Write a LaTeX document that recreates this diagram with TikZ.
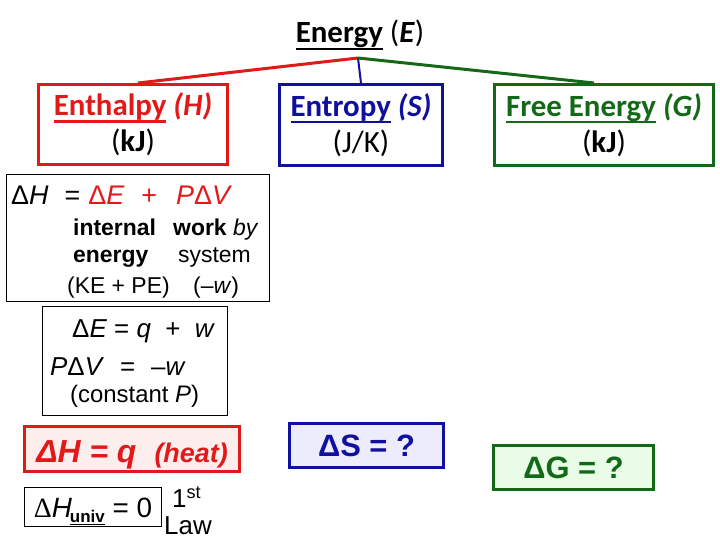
\documentclass[tikz,border=0pt]{standalone}
\usepackage{fontspec}
\setmainfont{Carlito}
\newfontfamily\arialfont{Liberation Sans}
\newfontfamily\timesfont{Liberation Serif}
\usetikzlibrary{positioning}
\definecolor{enthred}{RGB}{225,25,25}
\definecolor{entrblue}{RGB}{15,15,160}
\definecolor{freegreen}{RGB}{20,105,25}
\definecolor{heatfill}{RGB}{253,238,238}
\definecolor{dsfill}{RGB}{236,236,252}
\definecolor{dgfill}{RGB}{232,252,232}
\newcommand{\thickul}[1]{\setbox0\hbox{#1}\rlap{\raisebox{-7bp}{\rule{\wd0}{2.4bp}}}\box0\relax}

\begin{document}
\begin{tikzpicture}[x=1bp, y=-1bp,
    head/.style={draw, line width=3bp, inner sep=0pt, align=center, font=\fontsize{31}{36}\selectfont},
    notebox/.style={draw, line width=0.8bp, inner sep=0pt},
    answer/.style={draw, line width=3bp, inner sep=0pt, font=\arialfont\bfseries\fontsize{31}{34}\selectfont},
    eqline/.style={anchor=base west, inner sep=0pt, font=\arialfont\fontsize{23}{26}\selectfont},
    bigeq/.style={eqline, font=\arialfont\fontsize{26}{30}\selectfont},
    branch/.style={line width=3bp}
]
\useasboundingbox (0,0) rectangle (720,540);

\node[anchor=base, inner sep=0pt, font=\fontsize{31}{36}\selectfont] (energy) at (360,43) {\thickul{\textbf{Energy}} (\textbf{\textit{E}})};
\coordinate (fork) at (358,58);

\node[head, draw=enthred, minimum width=189bp, minimum height=80bp] (enth) at (133,124.5) {{\color{enthred}\thickul{\textbf{Enthalpy}} \textbf{\textit{(H)}}}\\(\textbf{kJ})};
\node[head, draw=entrblue, minimum width=163bp, minimum height=81bp] (entr) at (361,125) {{\color{entrblue}\thickul{\textbf{Entropy}} \textbf{\textit{(S)}}}\\(J/K)};
\node[head, draw=freegreen, minimum width=219bp, minimum height=81bp] (free) at (604,125) {{\color{freegreen}\thickul{\textbf{Free Energy}} \textbf{\textit{(G)}}}\\(\textbf{kJ})};

\draw[branch, enthred] (fork) -- ([xshift=5bp]enth.north);
\draw[branch, entrblue, line width=2bp] (fork) -- (entr.north);
\draw[branch, freegreen] (fork) -- ([xshift=-10bp]free.north);

\node[notebox, minimum width=263bp, minimum height=127bp] (dhbox) at (138,238) {};
\node[bigeq, font=\arialfont\fontsize{27}{30}\selectfont] (dh1) at (11,205) {Δ\textit{H}\hspace{16bp}=\hspace{8bp}\textcolor{enthred}{Δ\textit{E}\hspace{17bp}+\hspace{19bp}\textit{P}Δ\textit{V}}};
\node[eqline] (dh2a) at (73,236) {\textbf{internal}};
\node[eqline] (dh2b) at (173,236) {\textbf{work} \textit{by}};
\node[eqline] (dh3a) at (73,263) {\textbf{energy}};
\node[eqline] (dh3b) at (178,263) {system};
\node[eqline] (dh4a) at (67,293) {(KE + PE)};
\node[eqline] (dh4b) at (193,293) {(–\textit{w})};

\node[notebox, minimum width=185bp, minimum height=109bp] (debox) at (135,361) {};
\node[bigeq] (de1) at (72,337) {Δ\textit{E} = \textit{q} \ + \ \textit{w}};
\node[bigeq] (de2) at (50,375) {\textit{P}Δ\textit{V}\hspace{16bp}=\hspace{16bp}–\textit{w}};
\node[eqline, font=\arialfont\fontsize{24}{28}\selectfont] (de3) at (70,402) {(constant \textit{P})};

\node[answer, draw=enthred, fill=heatfill, text=enthred, minimum width=215bp, minimum height=45bp, text height=27bp, text depth=0bp, font=\arialfont\bfseries\itshape\fontsize{32}{34}\selectfont] (heat) at (132,449) {ΔH = q\hspace{18bp}{\fontsize{27}{30}\selectfont(heat)}};

\node[notebox, minimum width=137bp, minimum height=39bp, text height=21bp, text depth=0bp, font=\arialfont\fontsize{28}{30}\selectfont] (univ) at (93,507) {{\timesfont Δ}\textit{H}\hspace{-2bp}\raisebox{-5bp}{\fontsize{17}{18}\selectfont\underline{\textbf{univ}}} = 0};
\node[eqline, font=\arialfont\fontsize{26}{30}\selectfont] (law1) at (172,507) {1\textsuperscript{st}};
\node[eqline, font=\arialfont\fontsize{26}{30}\selectfont] (law2) at (164,534) {Law};

\node[answer, draw=entrblue, fill=dsfill, text=entrblue, minimum width=154bp, minimum height=44bp] (ds) at (366.5,445.5) {ΔS = ?};
\node[answer, draw=freegreen, fill=dgfill, text=freegreen, minimum width=160bp, minimum height=44bp] (dg) at (573.5,467.5) {ΔG = ?};
\end{tikzpicture}
\end{document}
